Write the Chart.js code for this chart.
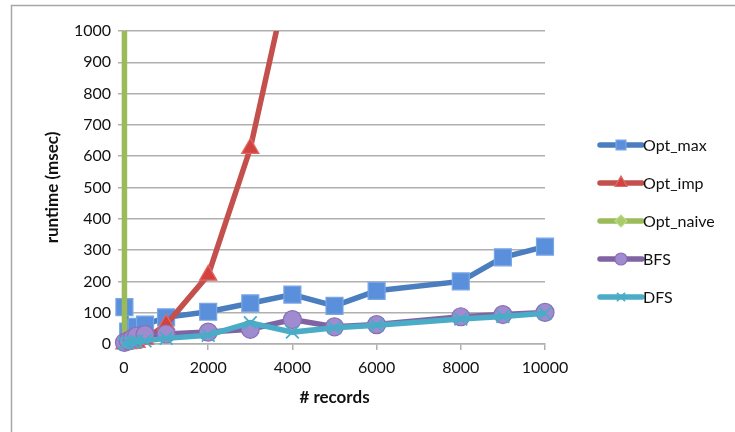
<!DOCTYPE html>
<html>
<head>
<meta charset="utf-8">
<script src="https://cdn.jsdelivr.net/npm/chart.js@4.4.1/dist/chart.umd.min.js"></script>
<style>
  html, body { margin: 0; padding: 0; background: #ffffff; }
  #wrap { width: 735px; height: 432px; position: relative; }
</style>
</head>
<body>
<div id="wrap"><canvas id="c" width="735" height="432"></canvas></div>
<script>
// ---- data ----
const records = [10, 100, 200, 300, 500, 1000, 2000, 3000, 4000, 5000, 6000, 8000, 9000, 10000];
const optMax  = [118, 40, 45, 55, 62, 85, 103, 130, 158, 122, 170, 200, 277, 311];
const impRecords = [10, 100, 200, 300, 500, 1000, 2000, 3000, 4000];
const optImp  = [0, 1, 2, 5, 15, 62, 220, 625, 1230];
const naiveRecords = [10, 100];
const optNaive = [5, 120000];
const bfs = [5, 10, 18, 25, 30, 32, 38, 47, 78, 55, 62, 87, 94, 101];
const dfs = [2, 4, 6, 8, 10, 18, 28, 68, 38, 52, 60, 80, 88, 98];
const seriesNames = ['Opt_max', 'Opt_imp', 'Opt_naive', 'BFS', 'DFS'];
const yTicks = [0, 100, 200, 300, 400, 500, 600, 700, 800, 900, 1000];
const xTicks = [0, 2000, 4000, 6000, 8000, 10000];

const pts = (xs, ys) => xs.map((x, i) => ({ x: x, y: ys[i] }));
const clipBox = { left: 20, right: 20, top: 0, bottom: 20 };
const FONT = 'Lato, "Open Sans", "Liberation Sans", sans-serif';

const datasets = [
  { label: seriesNames[0], data: pts(records, optMax), borderColor: '#4a7ebf', backgroundColor: '#5f93dc',
    pointStyle: 'rect', pointRadius: 12, pointBorderColor: '#7aa6e6', pointBackgroundColor: '#5a8fdb', order: 5 },
  { label: seriesNames[1], data: pts(impRecords, optImp), borderColor: '#c3504c', backgroundColor: '#d24e4a',
    pointStyle: 'triangle', pointRadius: 10, pointBorderColor: '#e06a66', pointBackgroundColor: '#d3423e', order: 4 },
  { label: seriesNames[2], data: pts(naiveRecords, optNaive), borderColor: '#9bbb59', backgroundColor: '#a9cc66',
    pointStyle: 'rectRot', pointRadius: 7, pointBorderColor: '#bcd98a', pointBackgroundColor: '#a9cc66', order: 3 },
  { label: seriesNames[3], data: pts(records, bfs), borderColor: '#7f63a3', backgroundColor: '#9c85c8',
    pointStyle: 'circle', pointRadius: 9, pointBorderColor: '#8a70b4', pointBackgroundColor: '#a08ad0', order: 2 },
  { label: seriesNames[4], data: pts(records, dfs), borderColor: '#4aacc6', backgroundColor: '#4aacc6',
    pointStyle: 'crossRot', pointRadius: 9, pointBorderColor: '#4aacc6', pointBackgroundColor: '#4aacc6', order: 1 }
].map(d => Object.assign({ borderWidth: 5.5, pointBorderWidth: 1.2, pointHoverRadius: 0, clip: clipBox, tension: 0 }, d));
datasets[4].pointBorderWidth = 1.8;

const legendSizes = [7, 7, 6, 6, 5];

const framePlugin = {
  id: 'frame',
  beforeDraw(chart) {
    const ctx = chart.ctx;
    ctx.save();
    ctx.fillStyle = '#ffffff';
    ctx.fillRect(0, 0, chart.width, chart.height);
    ctx.strokeStyle = '#a6a6a6';
    ctx.lineWidth = 1.5;
    ctx.beginPath();
    ctx.moveTo(11.5, chart.height);
    ctx.lineTo(11.5, 5.5);
    ctx.lineTo(chart.width, 5.5);
    ctx.stroke();
    ctx.restore();
  }
};

const legendPlugin = {
  id: 'sideLegend',
  afterDraw(chart) {
    const ctx = chart.ctx;
    const x0 = 600, x1 = 642, yStart = 145, step = 38;
    chart.data.datasets.forEach((ds, i) => {
      const y = yStart + i * step;
      ctx.save();
      ctx.strokeStyle = ds.borderColor;
      ctx.lineWidth = 5.5;
      ctx.lineCap = 'round';
      ctx.beginPath();
      ctx.moveTo(x0, y);
      ctx.lineTo(x1, y);
      ctx.stroke();
      ctx.fillStyle = ds.pointBackgroundColor;
      ctx.strokeStyle = ds.pointBorderColor;
      ctx.lineWidth = ds.pointBorderWidth;
      Chart.helpers.drawPoint(ctx, { pointStyle: ds.pointStyle, radius: legendSizes[i], rotation: 0, borderWidth: ds.pointBorderWidth }, (x0 + x1) / 2, y);
      ctx.fillStyle = '#111111';
      ctx.font = '16px ' + FONT;
      ctx.textAlign = 'left';
      ctx.textBaseline = 'middle';
      ctx.fillText(ds.label, x1 + 1, y + 1);
      ctx.restore();
    });
  }
};

new Chart(document.getElementById('c'), {
  type: 'line',
  data: { datasets: datasets },
  plugins: [framePlugin, legendPlugin],
  options: {
    responsive: false,
    animation: false,
    devicePixelRatio: 1,
    layout: { padding: { left: 0, top: 31, right: 190, bottom: 0 } },
    plugins: { legend: { display: false }, tooltip: { enabled: false } },
    scales: {
      x: {
        type: 'linear', min: 0, max: 10000,
        afterBuildTicks(scale) { scale.ticks = xTicks.map(v => ({ value: v })); },
        afterFit(scale) { scale.height = 88; },
        grid: { drawOnChartArea: false, drawTicks: true, tickLength: 6, color: '#b0b0b0', lineWidth: 1.5 },
        border: { display: true, color: '#b0b0b0', width: 1.5 },
        ticks: { color: '#111111', font: { family: FONT, size: 16 }, padding: 8, maxRotation: 0, callback: v => String(v) },
        title: { display: true, text: '# records', color: '#111111', font: { family: FONT, size: 17, weight: 'bold' }, padding: { top: 0, bottom: 24 } }
      },
      y: {
        type: 'linear', min: 0, max: 1000,
        afterBuildTicks(scale) { scale.ticks = yTicks.map(v => ({ value: v })); },
        afterFit(scale) { scale.width = 124; },
        grid: { drawTicks: true, tickLength: 6, color: '#b0b0b0', lineWidth: 1.5 },
        border: { display: true, color: '#b0b0b0', width: 1.5 },
        ticks: { color: '#111111', font: { family: FONT, size: 16 }, padding: 7, callback: v => String(v) },
        title: { display: true, text: 'runtime (msec)', color: '#111111', font: { family: FONT, size: 17, weight: 'bold' }, padding: { top: 42, bottom: 0 } }
      }
    }
  }
});
</script>
</body>
</html>
